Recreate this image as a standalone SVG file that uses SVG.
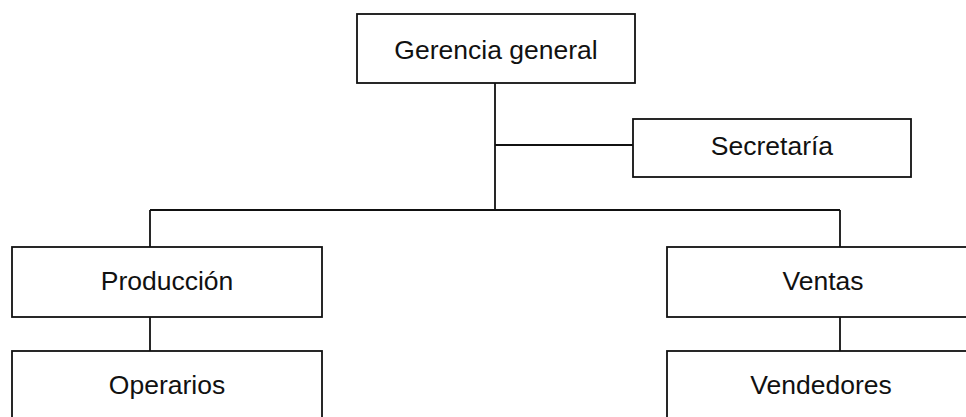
<svg xmlns="http://www.w3.org/2000/svg" width="966" height="417" viewBox="0 0 966 417">
<style>
.box{fill:#fff;stroke:#111;stroke-width:1.8}
.ln{fill:none;stroke:#111;stroke-width:1.8}
text{font-family:"Liberation Sans",Arial,sans-serif;font-size:26.5px;fill:#111;text-anchor:middle}
</style>
<rect width="966" height="417" fill="#fff"/>
<g id="connectors">
<path class="ln" d="M495 83V210M495 145H633M150 210H840M150 210V247M840 210V247M150 317V351M840 317V351"/>
</g>
<g id="gerencia"><rect class="box" x="357" y="14" width="278" height="69"/><text x="496" y="59">Gerencia general</text></g>
<g id="secretaria"><rect class="box" x="633" y="119" width="278" height="58"/><text x="772" y="155">Secretaría</text></g>
<g id="produccion"><rect class="box" x="12" y="247" width="310" height="70"/><text x="167" y="290">Producción</text></g>
<g id="ventas"><rect class="box" x="667" y="247" width="320" height="70"/><text x="823" y="290">Ventas</text></g>
<g id="operarios"><rect class="box" x="12" y="351" width="310" height="80"/><text x="167" y="394">Operarios</text></g>
<g id="vendedores"><rect class="box" x="667" y="351" width="320" height="80"/><text x="821" y="394">Vendedores</text></g>
</svg>
